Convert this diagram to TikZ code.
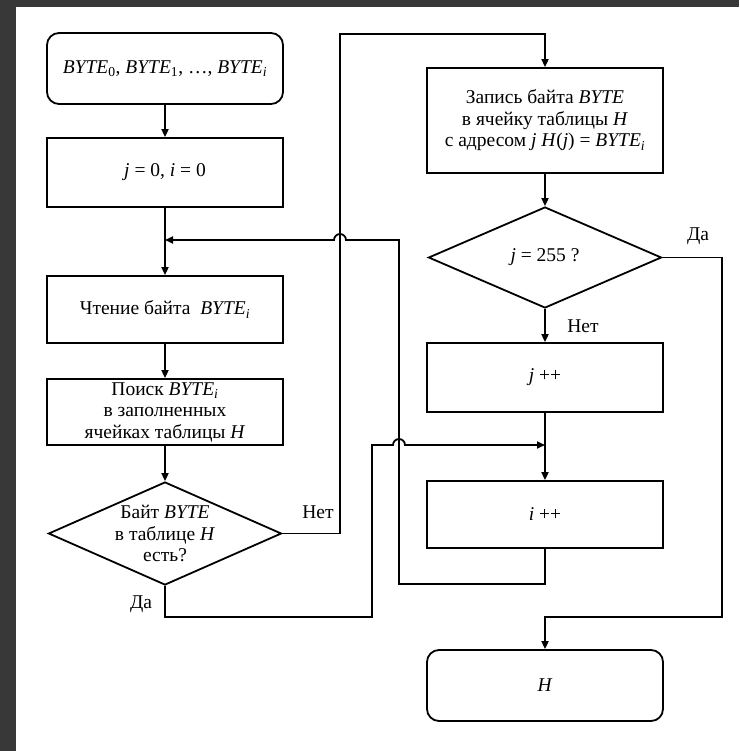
\documentclass[tikz,border=0pt]{standalone}
\usepackage{fontspec}
\setmainfont{Liberation Serif}
\usetikzlibrary{shapes.geometric,arrows.meta}
\newcommand{\byt}[1]{\textit{BYTE}\textsubscript{#1}}
\begin{document}
\begin{tikzpicture}[x=1pt,y=-1pt,
  every node/.style={font=\fontsize{19.5}{21.5}\selectfont, align=center, inner sep=0pt},
  proc/.style={draw, line width=1.8pt, minimum width=236pt, minimum height=#1},
  term/.style={draw, line width=1.8pt, rounded corners=12pt, minimum width=236pt, minimum height=71pt},
  dec/.style={draw, line width=1.8pt, diamond, minimum width=233pt, minimum height=#1},
  conn/.style={line width=1.8pt},
  arr/.style={conn, -{Triangle[length=8pt,width=7pt]}}
]
\useasboundingbox (0,0) rectangle (739,751);
\fill[black!78] (0,0) rectangle (739,751);
\fill[white] (16,7) rectangle (739,751);

% left column
\node[term] (start) at (165,68.5) {\byt{0}, \byt{1}, …, \byt{\textit{i}}};
\node[proc=69pt] (init) at (165,172.5) {\textit{j} = 0, \textit{i} = 0};
\node[proc=67pt] (read) at (165,309.5) {Чтение байта \ \byt{\textit{i}}};
\node[proc=66pt] (search) at (165,412) {Поиск \byt{\textit{i}}\\в заполненных\\ячейках таблицы \textit{H}};
\node[dec=103pt] (d1) at (165,533.5) {};
\node (d1t) at (d1.center) {Байт \textit{BYTE}\\в таблице \textit{H}\\есть?};

% right column
\node[proc=105pt] (rec) at (545,120.5) {Запись байта \textit{BYTE}\\в ячейку таблицы \textit{H}\\с адресом \textit{j} \textit{H}(\textit{j}) = \byt{\textit{i}}};
\node[dec=101pt] (d2) at (545,257.5) {};
\node (d2t) at (d2.center) {\textit{j} = 255 ?};
\node[proc=69pt] (jinc) at (545,377.5) {\textit{j} ++};
\node[proc=67pt] (iinc) at (545,514.5) {\textit{i} ++};
\node[term] (fin) at (545,685.5) {\textit{H}};

% labels
\node (lno1) at (318,512) {Нет};
\node (lyes1) at (141,604) {Да};
\node (lyes2) at (698,236) {Да};
\node (lno2) at (583,326) {Нет};

% helper coordinates
\coordinate (jl) at (165,240);
\coordinate (jr) at (545,445);
\coordinate (top) at (340,34);
\coordinate (rr) at (722,617);
\coordinate (lb) at (372,617);
\coordinate (lp) at (399,584);

% main flow
\draw[arr] (start) -- (init);
\draw[arr] (init) -- (read);
\draw[arr] (read) -- (search);
\draw[arr] (search) -- (d1);
\draw[arr] (rec) -- (d2);
\draw[arr] (d2) -- (jinc);
\draw[arr] (jinc) -- (iinc);

% "Нет" from d1 to rec
\draw[arr] (d1.east) -| (top) -| (rec.north);
% "Да" from d2 to final
\draw[arr] (d2.east) -| (rr) -| (fin.north);
% "Да" from d1 to i++
\draw[arr] (d1.south) |- (lb) -- (372,445) -- (393,445)
  arc[start angle=180, end angle=0, radius=6pt] -- (jr);
% loop back from i++ to read
\draw[arr] (iinc.south) |- (lp) -- (399,240) -- (346,240)
  arc[start angle=0, end angle=180, radius=6pt] -- (jl);
\end{tikzpicture}
\end{document}
